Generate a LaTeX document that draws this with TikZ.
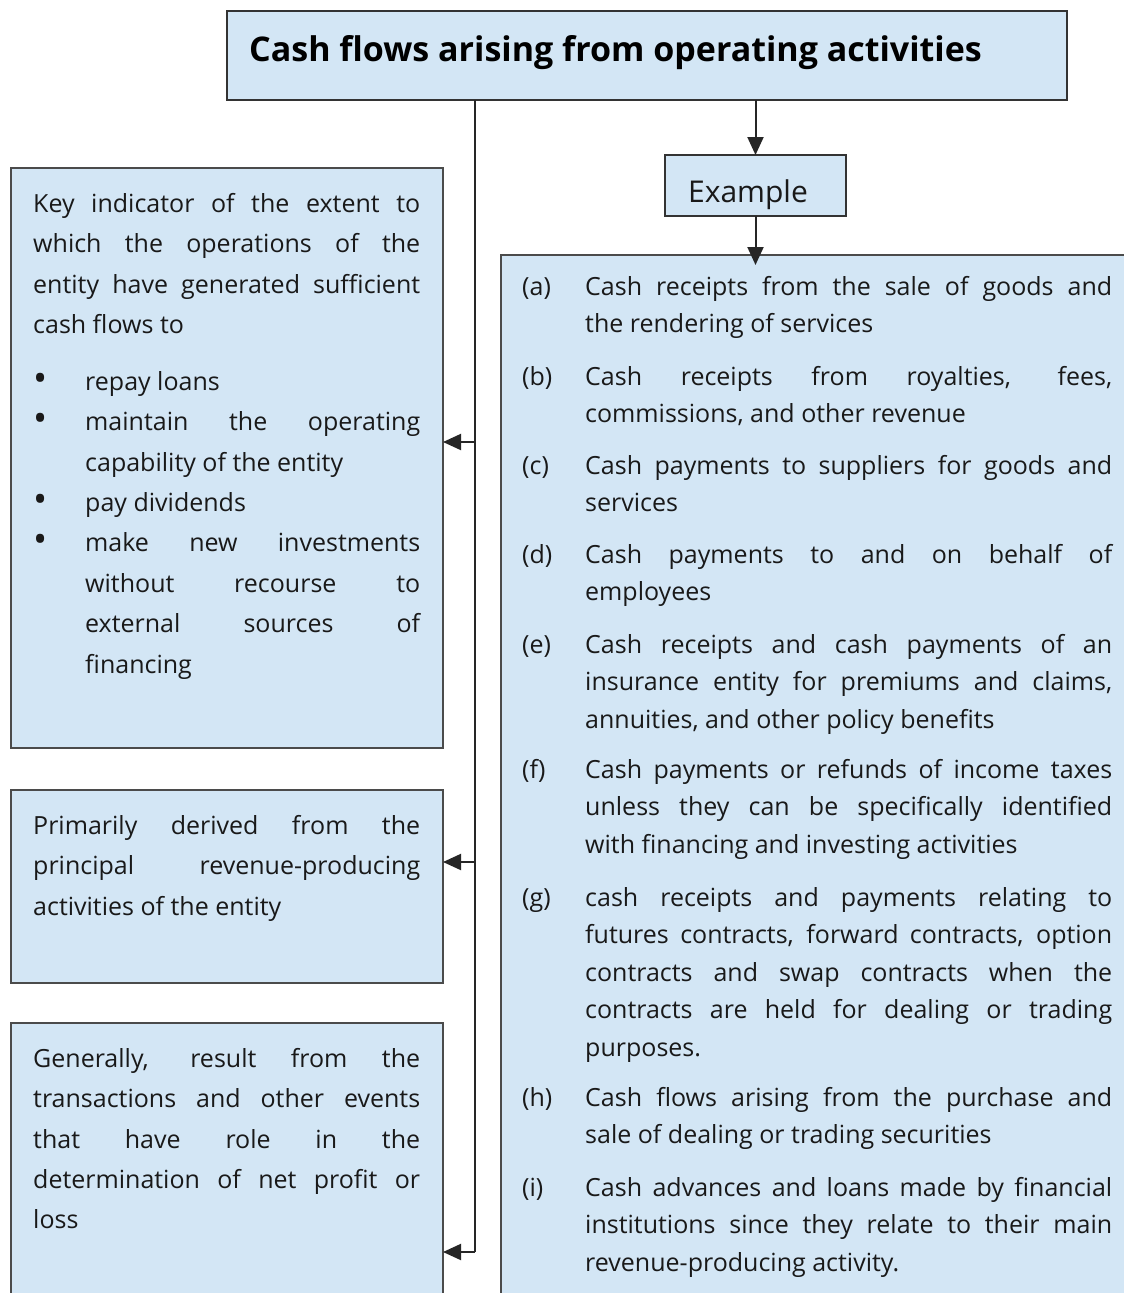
\documentclass[tikz,border=0pt]{standalone}
\usepackage{fontspec}
\setmainfont{Open Sans}
\usetikzlibrary{arrows.meta}
\definecolor{boxfill}{RGB}{211,230,245}
\definecolor{boxline}{RGB}{75,75,75}
\definecolor{txtcol}{RGB}{25,25,25}
\newcommand\J[2]{\makebox[#1][s]{#2}}
\newcommand\Bul{\makebox[52pt][l]{\hspace*{0pt}\raisebox{-1pt}{\scalebox{1.5}{\textbullet}}}}
\newcommand\Ind{\hspace*{52pt}}
\newcommand\Lab[1]{\makebox[63pt][l]{#1}}
\newcommand\Lin{\hspace*{63pt}}
\newcommand\St{\rule{0pt}{20pt}}
\begin{document}
\begin{tikzpicture}[x=1pt,y=-1pt,
  box/.style={draw=boxline,fill=boxfill,line width=1.6pt,anchor=north west,inner sep=0,outer sep=0},
  txt/.style={anchor=north west,inner sep=0,align=left,text=txtcol,font=\fontsize{25}{40.4}\selectfont},
  rtxt/.style={anchor=north west,inner sep=0,align=left,text=txtcol,font=\fontsize{25}{37.5}\selectfont},
  conn/.style={draw=black!85,line width=2pt},
  arr/.style={conn,-{Triangle[length=18pt,width=16pt]}}]
\clip (0,0) rectangle (1124,1293);
\fill[white] (0,0) rectangle (1124,1293);
% boxes
\node[box,draw=black!80,minimum width=840pt,minimum height=89pt] (title) at (227,11) {};
\node[box,draw=black!80,minimum width=181pt,minimum height=61pt] (ex) at (665,155) {};
\node[box,minimum width=640pt,minimum height=1060pt] (right) at (501,255) {};
\node[box,minimum width=432pt,minimum height=580pt] (b1) at (11,168) {};
\node[box,minimum width=432pt,minimum height=193pt] (b2) at (11,790) {};
\node[box,minimum width=432pt,minimum height=300pt] (b3) at (11,1023) {};
% texts
\node[anchor=base west,inner sep=0,text=black,font=\bfseries\fontsize{34}{34}\selectfont] (tt) at (249,61) {Cash flows arising from operating activities};
\node[anchor=base,inner sep=0,text=txtcol,font=\fontsize{30}{30}\selectfont] (ext) at (748,202) {Example};
\node[txt] (b1a) at (33,192) {\St\J{387pt}{Key indicator of the extent to}\\
\J{387pt}{which the operations of the}\\
\J{387pt}{entity have generated sufficient}\\
cash flows to};
\node[txt] (b1b) at (33,370) {\St\Bul repay loans\\
\Bul\J{335pt}{maintain the operating}\\
\Ind capability of the entity\\
\Bul pay dividends\\
\Bul\J{335pt}{make new investments}\\
\Ind\J{335pt}{without recourse to}\\
\Ind\J{335pt}{external sources of}\\
\Ind financing};
\node[txt] (b2t) at (33,814) {\St\J{387pt}{Primarily derived from the}\\
\J{387pt}{principal revenue-producing}\\
activities of the entity};
\node[txt] (b3t) at (33,1047) {\St\J{387pt}{Generally, result from the}\\
\J{387pt}{transactions and other events}\\
\J{387pt}{that have role in the}\\
\J{387pt}{determination of net profit or}\\
loss};
% right items
\node[rtxt] (ia) at (522,275) {\St\Lab{(a)}\J{527pt}{Cash receipts from the sale of goods and}\\
\Lin the rendering of services};
\node[rtxt] (ib) at (522,365) {\St\Lab{(b)}\J{527pt}{Cash receipts from royalties, fees,}\\
\Lin commissions, and other revenue};
\node[rtxt] (ic) at (522,454) {\St\Lab{(c)}\J{527pt}{Cash payments to suppliers for goods and}\\
\Lin services};
\node[rtxt] (id) at (522,543) {\St\Lab{(d)}\J{527pt}{Cash payments to and on behalf of}\\
\Lin employees};
\node[rtxt] (ie) at (522,633) {\St\Lab{(e)}\J{527pt}{Cash receipts and cash payments of an}\\
\Lin\J{527pt}{insurance entity for premiums and claims,}\\
\Lin annuities, and other policy benefits};
\node[rtxt] (iff) at (522,758) {\St\Lab{(f)}\J{527pt}{Cash payments or refunds of income taxes}\\
\Lin\J{527pt}{unless they can be specifically identified}\\
\Lin with financing and investing activities};
\node[rtxt] (ig) at (522,886) {\St\Lab{(g)}\J{527pt}{cash receipts and payments relating to}\\
\Lin\J{527pt}{futures contracts, forward contracts, option}\\
\Lin\J{527pt}{contracts and swap contracts when the}\\
\Lin\J{527pt}{contracts are held for dealing or trading}\\
\Lin purposes.};
\node[rtxt] (ih) at (522,1086) {\St\Lab{(h)}\J{527pt}{Cash flows arising from the purchase and}\\
\Lin sale of dealing or trading securities};
\node[rtxt] (ii) at (522,1176) {\St\Lab{(i)}\J{527pt}{Cash advances and loans made by financial}\\
\Lin\J{527pt}{institutions since they relate to their main}\\
\Lin revenue-producing activity.};
% connectors
\coordinate (j1) at (475,442);
\coordinate (j2) at (475,862);
\coordinate (j3) at (475,1252);
\draw[conn] (title.south -| j1) -- (j3);
\draw[arr] (j1) -- (j1 -| b1.east);
\draw[arr] (j2) -- (j2 -| b2.east);
\draw[arr] (j3) -- (j3 -| b3.east);
\draw[arr] (title.south -| ex.north) -- (ex.north);
\draw[arr,shorten >=-10pt] (ex.south) -- (ex.south |- right.north);
\end{tikzpicture}
\end{document}
